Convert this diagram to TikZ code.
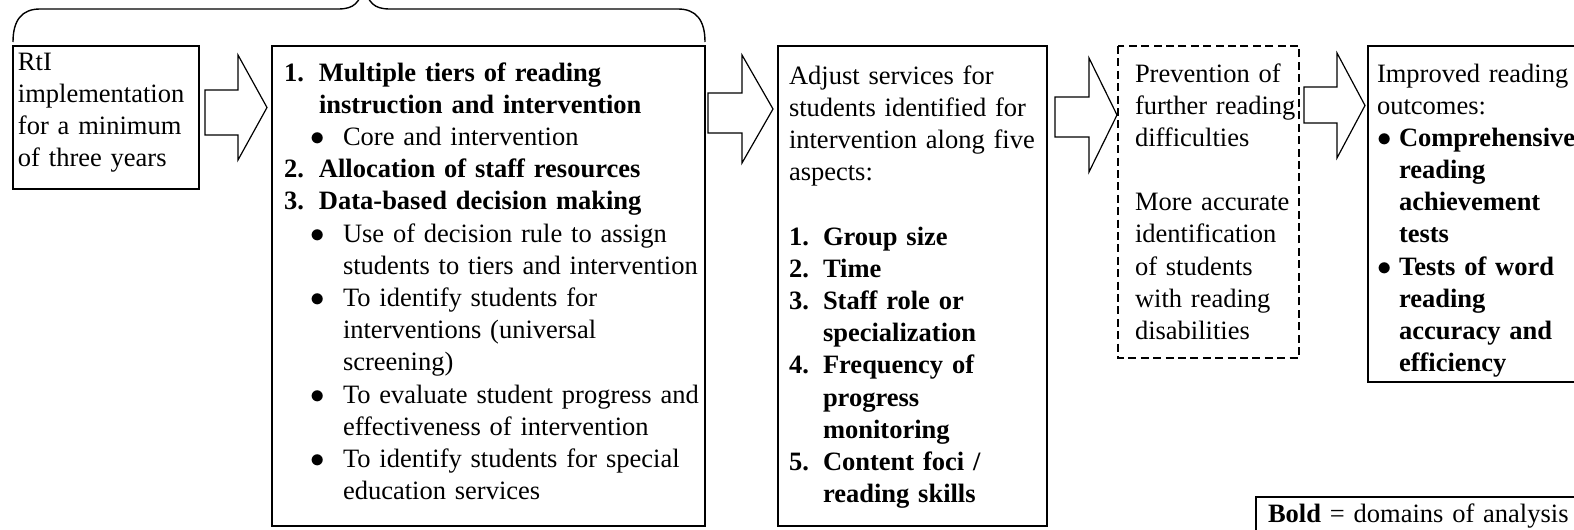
\documentclass[tikz,border=0pt]{standalone}
\usepackage{fontspec}
\setmainfont{Liberation Serif}
\newcommand\blockarr[7]{\draw[blockarrow] (#1,#6) -- (#2,#6) -- (#2,#4) -- (#3,{(#4+#5)/2}) -- (#2,#5) -- (#2,#7) -- (#1,#7) -- cycle;}
\newcommand\bul{$\bullet$}
\begin{document}
\begin{tikzpicture}[x=0.5pt,y=-0.5pt,
  box/.style={draw=black, line width=0.7pt},
  dashbox/.style={draw=black, line width=0.7pt, dash pattern=on 4pt off 2.2pt},
  txt/.style={anchor=base west, inner sep=0pt, outer sep=0pt, text width=#1, align=left, font=\fontsize{13.25}{16.1}\selectfont},
  blockarrow/.style={draw=black, line width=0.6pt, line join=miter, fill=white},
  brace/.style={draw=black, line width=0.7pt}]
\useasboundingbox (0,0) rectangle (1574,530);
\clip (0,0) rectangle (1574,530);

% top brace
\draw[brace] (13,42) .. controls (13,20) and (22,9) .. (40,9) -- (338,9) .. controls (354,9) and (360,3) .. (364,-15);
\draw[brace] (364,-15) .. controls (368,3) and (374,9) .. (390,9) -- (678,9) .. controls (696,9) and (705,20) .. (705,42);

% boxes
\draw[box] (13,46) rectangle (199,189);
\draw[box] (272,46) rectangle (705,526);
\draw[box] (778,46) rectangle (1047,526);
\draw[dashbox] (1118,46) rectangle (1299,358);
\draw[box] (1368,46) rectangle (1640,382);
\draw[box] (1256,497) rectangle (1640,600);

% block arrows: xleft, xbase, xtip, headtop, headbottom, shafttop, shaftbottom
\blockarr{205}{238}{267}{55}{160}{90}{135}
\blockarr{708}{742}{773}{55}{163}{93}{133}
\blockarr{1055}{1089}{1117}{58}{172}{97}{137}
\blockarr{1304}{1337}{1365}{53}{158}{87}{123}

% texts
\node[txt=100pt] (t1) at (18,70) {RtI\\implementation\\for a minimum\\of three years};

\node[txt=230pt] (t2) at (284,81) {%
\makebox[17.5pt][l]{\textbf{1.}}\textbf{Multiple tiers of reading}\\
\hspace*{17.5pt}\textbf{instruction and intervention}\\
\hspace*{13pt}\makebox[16.5pt][l]{\bul}Core and intervention\\
\makebox[17.5pt][l]{\textbf{2.}}\textbf{Allocation of staff resources}\\
\makebox[17.5pt][l]{\textbf{3.}}\textbf{Data-based decision making}\\
\hspace*{13pt}\makebox[16.5pt][l]{\bul}Use of decision rule to assign\\
\hspace*{29.5pt}students to tiers and intervention\\
\hspace*{13pt}\makebox[16.5pt][l]{\bul}To identify students for\\
\hspace*{29.5pt}interventions (universal\\
\hspace*{29.5pt}screening)\\
\hspace*{13pt}\makebox[16.5pt][l]{\bul}To evaluate student progress and\\
\hspace*{29.5pt}effectiveness of intervention\\
\hspace*{13pt}\makebox[16.5pt][l]{\bul}To identify students for special\\
\hspace*{29.5pt}education services};

\node[txt=140pt] (t3) at (789,84) {%
Adjust services for\\
students identified for\\
intervention along five\\
aspects:\\
\mbox{}\\
\makebox[17pt][l]{\textbf{1.}}\textbf{Group size}\\
\makebox[17pt][l]{\textbf{2.}}\textbf{Time}\\
\makebox[17pt][l]{\textbf{3.}}\textbf{Staff role or}\\
\hspace*{17pt}\textbf{specialization}\\
\makebox[17pt][l]{\textbf{4.}}\textbf{Frequency of}\\
\hspace*{17pt}\textbf{progress}\\
\hspace*{17pt}\textbf{monitoring}\\
\makebox[17pt][l]{\textbf{5.}}\textbf{Content foci /}\\
\hspace*{17pt}\textbf{reading skills}};

\node[txt=90pt] (t4) at (1135,82) {%
Prevention of\\
further reading\\
difficulties\\
\mbox{}\\
More accurate\\
identification\\
of students\\
with reading\\
disabilities};

\node[txt=140pt] (t5) at (1377,82) {%
Improved reading\\
outcomes:\\
\makebox[11pt][l]{\bul}\textbf{Comprehensive}\\
\hspace*{11pt}\textbf{reading}\\
\hspace*{11pt}\textbf{achievement}\\
\hspace*{11pt}\textbf{tests}\\
\makebox[11pt][l]{\bul}\textbf{Tests of word}\\
\hspace*{11pt}\textbf{reading}\\
\hspace*{11pt}\textbf{accuracy and}\\
\hspace*{11pt}\textbf{efficiency}};

\node[txt=220pt] (leg) at (1268,522) {\textbf{Bold} = domains of analysis};
\end{tikzpicture}
\end{document}
